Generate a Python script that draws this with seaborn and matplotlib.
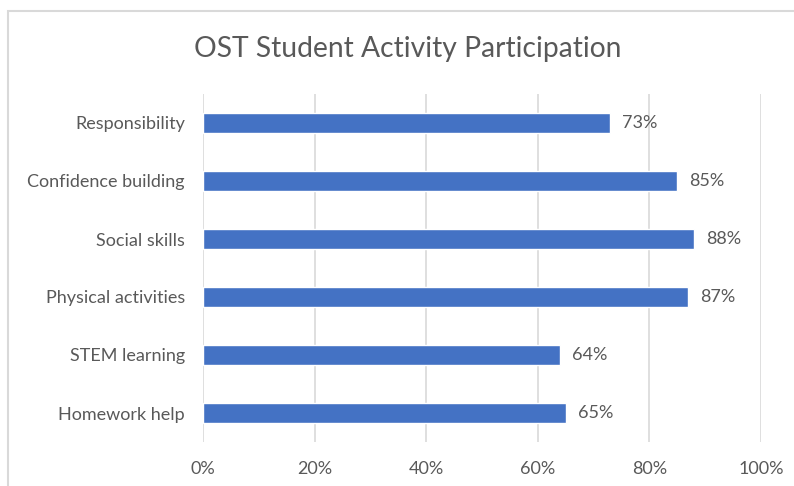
import matplotlib
matplotlib.use('Agg')
import matplotlib.pyplot as plt
import seaborn as sns
import pandas as pd
from matplotlib.patches import Rectangle

# Chart data
activities = ['Responsibility', 'Confidence building', 'Social skills',
              'Physical activities', 'STEM learning', 'Homework help']
participation = [73, 85, 88, 87, 64, 65]
x_ticks = [0, 20, 40, 60, 80, 100]
x_tick_labels = ['0%', '20%', '40%', '60%', '80%', '100%']
title = 'OST Student Activity Participation'

df = pd.DataFrame({'Activity': activities, 'Participation': participation})

sns.set_style('white')
plt.rcParams['font.family'] = ['Lato', 'DejaVu Sans']
text_color = '#595959'
grid_color = '#d9d9d9'

fig = plt.figure(figsize=(7.94, 4.86), dpi=100)
ax = fig.add_axes([203 / 794, 44 / 486, 558 / 794, 348 / 486])

sns.barplot(data=df, y='Activity', x='Participation', orient='h',
            color='#4472C4', width=0.345, saturation=1, ax=ax, zorder=3)

ax.set_xlim(0, 100)
ax.set_ylim(5.5, -0.5)
ax.set_xticks(x_ticks)
ax.set_xticklabels(x_tick_labels)
ax.xaxis.grid(True, color=grid_color, linewidth=1.2, zorder=0)
ax.set_axisbelow(True)
for s in ax.spines.values():
    s.set_visible(False)
ax.tick_params(axis='both', length=0, labelsize=13, colors=text_color)
ax.tick_params(axis='x', pad=14)
ax.tick_params(axis='y', pad=13)
ax.set_xlabel('')
ax.set_ylabel('')

# value labels
for i, v in enumerate(participation):
    ax.annotate(f'{v}%', xy=(v, i), xytext=(8.5, 0), textcoords='offset points',
                va='center', ha='left', fontsize=13, color=text_color)

fig.text(408 / 794, 1 - 49 / 486, title, ha='center', va='center',
         fontsize=20.3, color=text_color)

# chart border (left and top visible, right/bottom cropped)
fig.patches.append(Rectangle((8 / 794, -0.1), 1.2, 1 - 11 / 486 + 0.1,
                             transform=fig.transFigure, fill=False,
                             edgecolor=grid_color, linewidth=1.5))

fig.savefig('out.png', dpi=100, facecolor='white')
